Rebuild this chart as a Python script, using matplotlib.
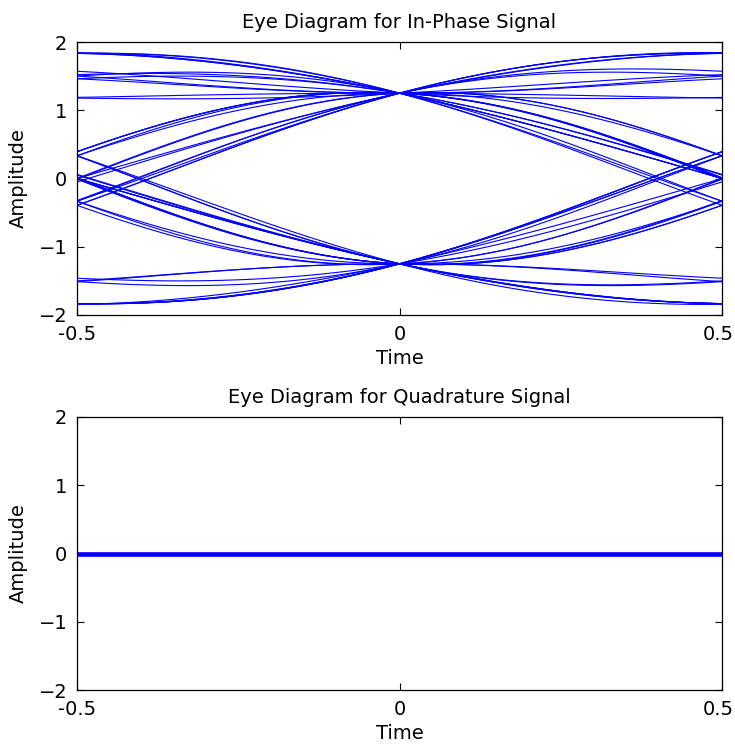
import numpy as np
import matplotlib
matplotlib.use("Agg")
import matplotlib.pyplot as plt
from matplotlib.transforms import ScaledTranslation

# BPSK symbol stream behind the eye (in-phase), quadrature branch is all zero
symbols_i = [1, -1, -1, 1, 1, 1, -1, 1, -1, -1,
             -1, 1, 1, -1, 1, 1, -1, -1, 1, -1,
             1, 1, 1, 1, 1, -1, -1, 1, -1, -1,
             1, 1, -1, 1, -1, -1, -1, 1, -1, 1,
             1, -1, -1, 1, -1, 1, 1, -1, -1, 1,
             -1, 1, 1, 1, -1, -1, 1, -1, -1, 1]
symbols_q = [0] * len(symbols_i)

amplitude = 1.25   # level at the sampling instant
rolloff = 0.47     # raised cosine roll-off
sps = 64           # samples per symbol
span = 4           # pulse truncated to +-span symbols

xticks = [-0.5, 0, 0.5]
xticklabels = ["-0.5", "0", "0.5"]
yticks = [-2, -1, 0, 1, 2]
titles = ["Eye Diagram for In-Phase Signal", "Eye Diagram for Quadrature Signal"]


def rc_pulse(t, beta):
    t = np.asarray(t, dtype=float)
    denom = 1 - (2 * beta * t) ** 2
    sing = np.abs(denom) < 1e-9
    out = np.sinc(t) * np.cos(np.pi * beta * t) / np.where(sing, 1, denom)
    out[sing] = np.pi / 4 * np.sinc(1 / (2 * beta))
    return out


def waveform(syms):
    t = np.arange(len(syms) * sps) / sps
    s = np.zeros_like(t)
    for k, b in enumerate(syms):
        near = np.abs(t - k) <= span
        s[near] += amplitude * b * rc_pulse(t[near] - k, rolloff)
    return s


def draw_eye(ax, syms, title, lw):
    s = waveform(syms)
    offs = np.arange(-sps // 2, sps // 2 + 1)
    tau = offs / sps
    for k in range(span, len(syms) - span):
        ax.plot(tau, s[k * sps + offs], color="#0000ff", lw=lw)

    ax.set_xlim(-0.5, 0.5)
    ax.set_ylim(-2, 2)
    ax.set_xticks(xticks)
    ax.set_xticklabels(xticklabels)
    ax.set_yticks(yticks)
    ax.tick_params(direction="in", top=True, right=True, length=5, width=0.8,
                   labelsize=14, pad=7)
    ax.set_title(title, fontsize=14, pad=10)
    ax.set_xlabel("Time", fontsize=14)
    ax.set_ylabel("Amplitude", fontsize=14)
    ax.xaxis.set_label_coords(0.5, -0.125)
    ax.yaxis.set_label_coords(-0.076, 0.5)
    for sp in ax.spines.values():
        sp.set_linewidth(0.9)
    # keep the right-hand "0.5" inside the canvas
    last = ax.get_xticklabels()[-1]
    last.set_transform(last.get_transform() + ScaledTranslation(-4 / 100, 0, fig.dpi_scale_trans))


fig = plt.figure(figsize=(7.35, 7.5), dpi=100)
ax1 = fig.add_axes([0.1048, 0.58, 0.8776, 0.364])
ax2 = fig.add_axes([0.1048, 0.08, 0.8776, 0.364])

draw_eye(ax1, symbols_i, titles[0], 0.8)
draw_eye(ax2, symbols_q, titles[1], 2.2)

fig.savefig("out.png", dpi=100)
